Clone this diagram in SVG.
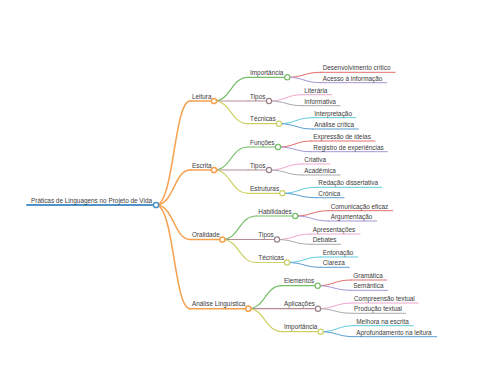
<svg xmlns="http://www.w3.org/2000/svg" width="480" height="384" viewBox="0 0 480 384">
<style>
text{font-family:"Liberation Sans",Arial,sans-serif;font-size:6.4px;fill:#3c3c3c}
path,line{fill:none;stroke-linecap:round}
circle{fill:#fff}
.l0{stroke-width:1.8}
.l1{stroke-width:1.5}
.l2{stroke-width:1.2}
.l3{stroke-width:1}
.blue{stroke:#4f93c9}
.orange{stroke:#f7a04e}
.green{stroke:#74be66}
.brown{stroke:#b48d92}
.olive{stroke:#cdd163}
.red{stroke:#e36d6d}
.purple{stroke:#a794d6}
.pink{stroke:#efa6cf}
.gray{stroke:#aaaaaa}
.cyan{stroke:#5fcbdd}
.blue2{stroke:#5a9dd3}
circle.brown{stroke:#9a8088}
</style>
<rect width="480" height="384" fill="#fff"/>
<g id="connectors">
<path class="l1 orange" d="M156,205 C174,205 174,101 190,101"/>
<path class="l1 orange" d="M156,205 C174,205 174,170 190,170"/>
<path class="l1 orange" d="M156,205 C174,205 174,239.5 190,239.5"/>
<path class="l1 orange" d="M156,205 C174,205 174,308.7 190,308.7"/>
<path class="l2 green" d="M214,101 C231,101 231,77.3 248,77.3"/>
<path class="l2 brown" d="M214,101 L248,101"/>
<path class="l2 olive" d="M214,101 C231,101 231,123.7 248,123.7"/>
<path class="l2 green" d="M214,170 C231,170 231,147 248,147"/>
<path class="l2 brown" d="M214,170 L248,170"/>
<path class="l2 olive" d="M214,170 C231,170 231,193.3 248,193.3"/>
<path class="l2 green" d="M222.3,239.5 C239,239.5 239,216 256.3,216"/>
<path class="l2 brown" d="M222.3,239.5 L256.3,239.5"/>
<path class="l2 olive" d="M222.3,239.5 C239,239.5 239,262.5 256.3,262.5"/>
<path class="l2 green" d="M248.3,308.7 C265,308.7 265,285.7 282,285.7"/>
<path class="l2 brown" d="M248.3,308.7 L282,308.7"/>
<path class="l2 olive" d="M248.3,308.7 C265,308.7 265,331.7 282,331.7"/>
<path class="l3 red" d="M287.3,77.3 C304,77.3 304,72.3 320.7,72.3"/>
<path class="l3 purple" d="M287.3,77.3 C304,77.3 304,82.7 320.7,82.7"/>
<path class="l3 pink" d="M269,101 C286,101 286,94.7 302.3,94.7"/>
<path class="l3 gray" d="M269,101 C286,101 286,105.7 302.3,105.7"/>
<path class="l3 cyan" d="M279,123.7 C296,123.7 296,117.7 312.3,117.7"/>
<path class="l3 blue2" d="M279,123.7 C296,123.7 296,129 312.3,129"/>
<path class="l3 red" d="M278,147 C295,147 295,141 311.3,141"/>
<path class="l3 purple" d="M278,147 C295,147 295,151.7 311.3,151.7"/>
<path class="l3 pink" d="M269,170 C286,170 286,164 302.3,164"/>
<path class="l3 gray" d="M269,170 C286,170 286,175 302.3,175"/>
<path class="l3 cyan" d="M282.3,193.3 C299,193.3 299,187.3 316.3,187.3"/>
<path class="l3 blue2" d="M282.3,193.3 C299,193.3 299,197.7 316.3,197.7"/>
<path class="l3 red" d="M295.3,216 C312,216 312,210.7 328.7,210.7"/>
<path class="l3 purple" d="M295.3,216 C312,216 312,221 328.7,221"/>
<path class="l3 pink" d="M277,239.5 C294,239.5 294,234 310.7,234"/>
<path class="l3 gray" d="M277,239.5 C294,239.5 294,244.3 310.7,244.3"/>
<path class="l3 cyan" d="M287,262.5 C304,262.5 304,257 320.7,257"/>
<path class="l3 blue2" d="M287,262.5 C304,262.5 304,267.3 320.7,267.3"/>
<path class="l3 red" d="M317.7,285.7 C334,285.7 334,280 351.3,280"/>
<path class="l3 purple" d="M317.7,285.7 C334,285.7 334,290.3 351.3,290.3"/>
<path class="l3 pink" d="M318,308.7 C335,308.7 335,303 352,303"/>
<path class="l3 gray" d="M318,308.7 C335,308.7 335,313.3 352,313.3"/>
<path class="l3 cyan" d="M320.7,331.7 C337,331.7 337,325.7 354.3,325.7"/>
<path class="l3 blue2" d="M320.7,331.7 C337,331.7 337,336.7 354.3,336.7"/>
</g>
<g id="root">
<line class="l0 blue" x1="27" y1="205" x2="156" y2="205"/>
<text x="31" y="202.5">Práticas de Linguagens no Projeto de Vida</text>
<circle class="l1 blue" cx="156" cy="205" r="2.6"/>
</g>
<g id="leitura">
<line class="l1 orange" x1="190" y1="101" x2="214" y2="101"/>
<text x="192" y="98.5">Leitura</text>
<circle class="l1 orange" cx="214" cy="101" r="2.6"/>
</g>
<g id="escrita">
<line class="l1 orange" x1="190" y1="170" x2="214" y2="170"/>
<text x="192" y="167.5">Escrita</text>
<circle class="l1 orange" cx="214" cy="170" r="2.6"/>
</g>
<g id="oralidade">
<line class="l1 orange" x1="190" y1="239.5" x2="222.3" y2="239.5"/>
<text x="192" y="237">Oralidade</text>
<circle class="l1 orange" cx="222.3" cy="239.5" r="2.6"/>
</g>
<g id="analise">
<line class="l1 orange" x1="190" y1="308.7" x2="248.3" y2="308.7"/>
<text x="192" y="306.2">Análise Linguística</text>
<circle class="l1 orange" cx="248.3" cy="308.7" r="2.6"/>
</g>
<g id="leitura-importancia">
<line class="l2 green" x1="248" y1="77.3" x2="287.3" y2="77.3"/>
<text x="250" y="75">Importância</text>
<circle class="l2 green" cx="287.3" cy="77.3" r="2.6"/>
</g>
<g id="leitura-tipos">
<line class="l2 brown" x1="248" y1="101" x2="269" y2="101"/>
<text x="250" y="98.7">Tipos</text>
<circle class="l2 brown" cx="269" cy="101" r="2.6"/>
</g>
<g id="leitura-tecnicas">
<line class="l2 olive" x1="248" y1="123.7" x2="279" y2="123.7"/>
<text x="250" y="121.4">Técnicas</text>
<circle class="l2 olive" cx="279" cy="123.7" r="2.6"/>
</g>
<g id="escrita-funcoes">
<line class="l2 green" x1="248" y1="147" x2="278" y2="147"/>
<text x="250" y="144.7">Funções</text>
<circle class="l2 green" cx="278" cy="147" r="2.6"/>
</g>
<g id="escrita-tipos">
<line class="l2 brown" x1="248" y1="170" x2="269" y2="170"/>
<text x="250" y="167.7">Tipos</text>
<circle class="l2 brown" cx="269" cy="170" r="2.6"/>
</g>
<g id="escrita-estruturas">
<line class="l2 olive" x1="248" y1="193.3" x2="282.3" y2="193.3"/>
<text x="250" y="191">Estruturas</text>
<circle class="l2 olive" cx="282.3" cy="193.3" r="2.6"/>
</g>
<g id="oralidade-habilidades">
<line class="l2 green" x1="256.3" y1="216" x2="295.3" y2="216"/>
<text x="258.3" y="213.7">Habilidades</text>
<circle class="l2 green" cx="295.3" cy="216" r="2.6"/>
</g>
<g id="oralidade-tipos">
<line class="l2 brown" x1="256.3" y1="239.5" x2="277" y2="239.5"/>
<text x="258.3" y="237.2">Tipos</text>
<circle class="l2 brown" cx="277" cy="239.5" r="2.6"/>
</g>
<g id="oralidade-tecnicas">
<line class="l2 olive" x1="256.3" y1="262.5" x2="287" y2="262.5"/>
<text x="258.3" y="260.2">Técnicas</text>
<circle class="l2 olive" cx="287" cy="262.5" r="2.6"/>
</g>
<g id="analise-elementos">
<line class="l2 green" x1="282" y1="285.7" x2="317.7" y2="285.7"/>
<text x="284" y="283.4">Elementos</text>
<circle class="l2 green" cx="317.7" cy="285.7" r="2.6"/>
</g>
<g id="analise-aplicacoes">
<line class="l2 brown" x1="282" y1="308.7" x2="318" y2="308.7"/>
<text x="284" y="306.4">Aplicações</text>
<circle class="l2 brown" cx="318" cy="308.7" r="2.6"/>
</g>
<g id="analise-importancia">
<line class="l2 olive" x1="282" y1="331.7" x2="320.7" y2="331.7"/>
<text x="284" y="329.4">Importância</text>
<circle class="l2 olive" cx="320.7" cy="331.7" r="2.6"/>
</g>
<g id="leaf-1"><line class="l3 red" x1="320.7" y1="72.3" x2="395" y2="72.3"/><text x="322.7" y="70.3">Desenvolvimento crítico</text></g>
<g id="leaf-2"><line class="l3 purple" x1="320.7" y1="82.7" x2="386.7" y2="82.7"/><text x="322.7" y="80.7">Acesso à informação</text></g>
<g id="leaf-3"><line class="l3 pink" x1="302.3" y1="94.7" x2="331.7" y2="94.7"/><text x="304.3" y="92.7">Literária</text></g>
<g id="leaf-4"><line class="l3 gray" x1="302.3" y1="105.7" x2="340" y2="105.7"/><text x="304.3" y="103.7">Informativa</text></g>
<g id="leaf-5"><line class="l3 cyan" x1="312.3" y1="117.7" x2="355.7" y2="117.7"/><text x="314.3" y="115.7">Interpretação</text></g>
<g id="leaf-6"><line class="l3 blue2" x1="312.3" y1="129" x2="358.3" y2="129"/><text x="314.3" y="127">Análise crítica</text></g>
<g id="leaf-7"><line class="l3 red" x1="311.3" y1="141" x2="375" y2="141"/><text x="313.3" y="139">Expressão de ideias</text></g>
<g id="leaf-8"><line class="l3 purple" x1="311.3" y1="151.7" x2="387.3" y2="151.7"/><text x="313.3" y="149.7">Registro de experiências</text></g>
<g id="leaf-9"><line class="l3 pink" x1="302.3" y1="164" x2="330" y2="164"/><text x="304.3" y="162">Criativa</text></g>
<g id="leaf-10"><line class="l3 gray" x1="302.3" y1="175" x2="340" y2="175"/><text x="304.3" y="173">Acadêmica</text></g>
<g id="leaf-11"><line class="l3 cyan" x1="316.3" y1="187.3" x2="381.7" y2="187.3"/><text x="318.3" y="185.3">Redação dissertativa</text></g>
<g id="leaf-12"><line class="l3 blue2" x1="316.3" y1="197.7" x2="344" y2="197.7"/><text x="318.3" y="195.7">Crônica</text></g>
<g id="leaf-13"><line class="l3 red" x1="328.7" y1="210.7" x2="392.7" y2="210.7"/><text x="330.7" y="208.7">Comunicação eficaz</text></g>
<g id="leaf-14"><line class="l3 purple" x1="328.7" y1="221" x2="376.7" y2="221"/><text x="330.7" y="219">Argumentação</text></g>
<g id="leaf-15"><line class="l3 pink" x1="310.7" y1="234" x2="360" y2="234"/><text x="312.7" y="232">Apresentações</text></g>
<g id="leaf-16"><line class="l3 gray" x1="310.7" y1="244.3" x2="340.7" y2="244.3"/><text x="312.7" y="242.3">Debates</text></g>
<g id="leaf-17"><line class="l3 cyan" x1="320.7" y1="257" x2="357.7" y2="257"/><text x="322.7" y="255">Entonação</text></g>
<g id="leaf-18"><line class="l3 blue2" x1="320.7" y1="267.3" x2="349.3" y2="267.3"/><text x="322.7" y="265.3">Clareza</text></g>
<g id="leaf-19"><line class="l3 red" x1="351.3" y1="280" x2="386.7" y2="280"/><text x="353.3" y="278">Gramática</text></g>
<g id="leaf-20"><line class="l3 purple" x1="351.3" y1="290.3" x2="387.7" y2="290.3"/><text x="353.3" y="288.3">Semântica</text></g>
<g id="leaf-21"><line class="l3 pink" x1="352" y1="303" x2="418.3" y2="303"/><text x="354" y="301">Compreensão textual</text></g>
<g id="leaf-22"><line class="l3 gray" x1="352" y1="313.3" x2="405.7" y2="313.3"/><text x="354" y="311.3">Produção textual</text></g>
<g id="leaf-23"><line class="l3 cyan" x1="354.3" y1="325.7" x2="413.3" y2="325.7"/><text x="356.3" y="323.7">Melhora na escrita</text></g>
<g id="leaf-24"><line class="l3 blue2" x1="354.3" y1="336.7" x2="436.7" y2="336.7"/><text x="356.3" y="334.7">Aprofundamento na leitura</text></g>
</svg>
